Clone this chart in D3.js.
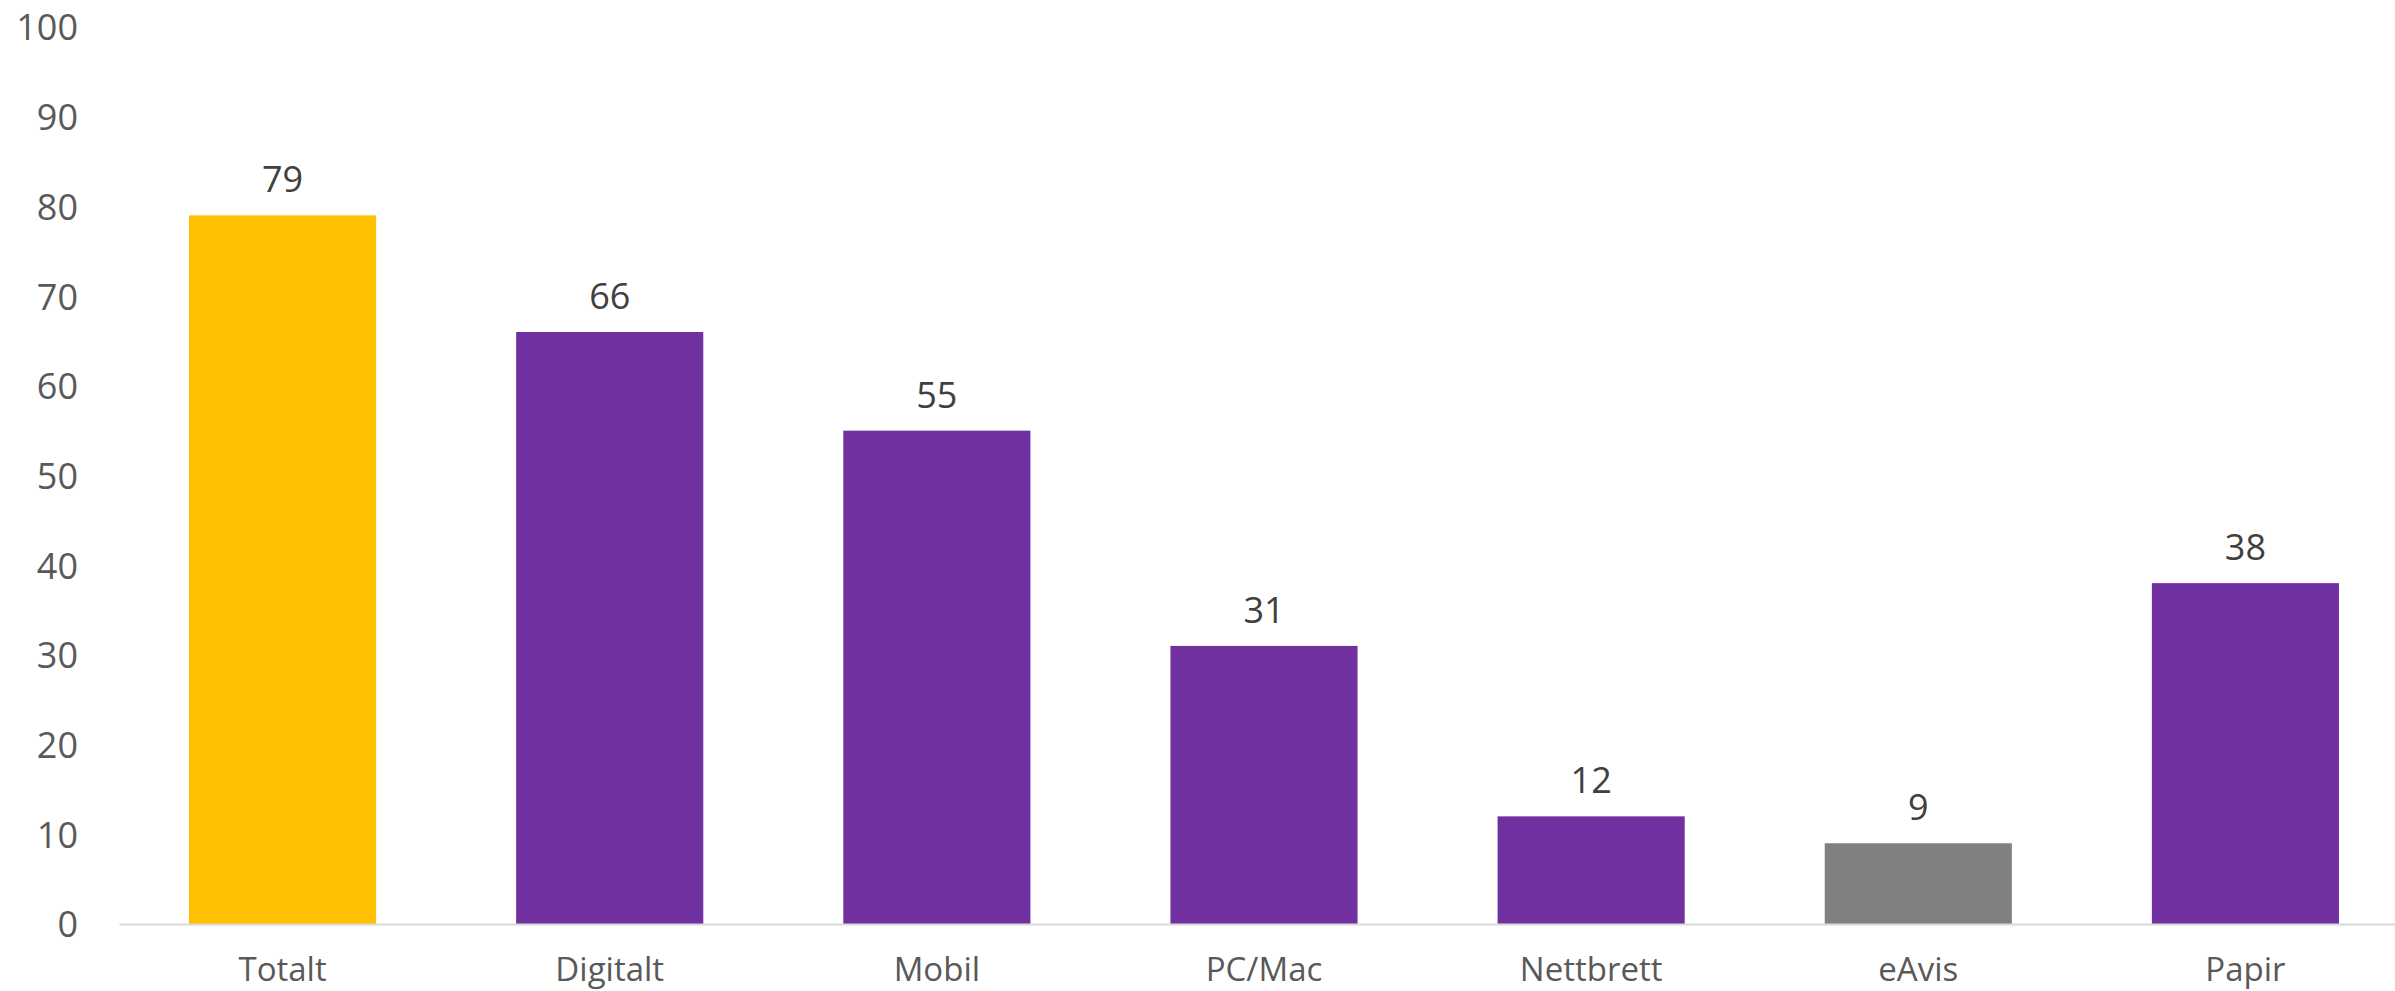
<!DOCTYPE html>
<html>
<head>
<meta charset="utf-8">
<script src="https://cdn.jsdelivr.net/npm/d3@7"></script>
<style>
  html, body { margin: 0; padding: 0; background: #fff; }
  svg { display: block; }
</style>
</head>
<body>
<svg id="chart" width="2395" height="991"></svg>
<script>
const categories = ["Totalt", "Digitalt", "Mobil", "PC/Mac", "Nettbrett", "eAvis", "Papir"];
const values = [79, 66, 55, 31, 12, 9, 38];
const barColors = ["#FFC000", "#7030A0", "#7030A0", "#7030A0", "#7030A0", "#808080", "#7030A0"];
const yTicks = [0, 10, 20, 30, 40, 50, 60, 70, 80, 90, 100];

const svg = d3.select("#chart");
const font = "'Open Sans', sans-serif";

const x = d3.scaleBand()
  .domain(categories)
  .range([119, 2409])
  .paddingInner(0.428)
  .paddingOuter(0.214);

const y = d3.scaleLinear().domain([0, 100]).range([924, 27]);

// y axis labels
const yAxis = d3.axisLeft(y).tickValues(yTicks).tickSize(0).tickPadding(0);
const yg = svg.append("g").attr("transform", "translate(78,0)").call(yAxis);
yg.select(".domain").remove();
yg.selectAll("text")
  .attr("font-family", font)
  .attr("font-size", 36)
  .attr("fill", "#595959")
  .attr("dy", "0.36em");

// bars
svg.append("g").selectAll("rect")
  .data(values)
  .join("rect")
  .attr("x", (d, i) => x(categories[i]))
  .attr("width", x.bandwidth())
  .attr("y", d => y(d))
  .attr("height", d => y(0) - y(d))
  .attr("fill", (d, i) => barColors[i]);

// baseline / x axis
const xAxis = d3.axisBottom(x).tickSize(0).tickPadding(0);
const xg = svg.append("g").attr("transform", `translate(0,${y(0)})`).call(xAxis);
xg.select(".domain").attr("stroke", "#D9D9D9").attr("stroke-width", 2);
xg.selectAll("text")
  .attr("font-family", font)
  .attr("font-size", 33)
  .attr("fill", "#595959")
  .attr("y", 57)
  .attr("dy", 0);

// value labels
svg.append("g").selectAll("text")
  .data(values)
  .join("text")
  .attr("x", (d, i) => x(categories[i]) + x.bandwidth() / 2)
  .attr("y", d => y(d) - 23)
  .attr("text-anchor", "middle")
  .attr("font-family", font)
  .attr("font-size", 36)
  .attr("fill", "#404040")
  .text(d => d);
</script>
</body>
</html>
